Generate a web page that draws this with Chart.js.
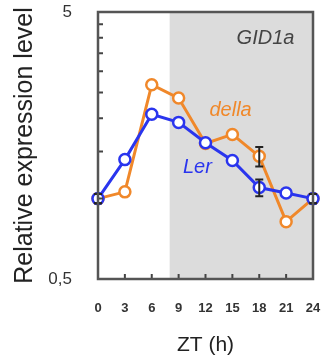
<!DOCTYPE html>
<html>
<head>
<meta charset="utf-8">
<script src="https://cdn.jsdelivr.net/npm/chart.js@4"></script>
<style>
    html, body { margin: 0; padding: 0; background: #fff; }
    #wrap { width: 321px; height: 362px; }
</style>
</head>
<body>
<div id="wrap"><canvas id="gid"></canvas></div>
<script>
// ZT hours and relative expression (log axis)
var zt = [0, 3, 6, 9, 12, 15, 18, 21, 24];
var della = [1.0, 1.06, 2.67, 2.38, 1.61, 1.74, 1.44, 0.82, 1.0];
var ler = [1.0, 1.40, 2.07, 1.93, 1.62, 1.39, 1.10, 1.05, 1.0];
var dellaErr = [0.04, 0, 0, 0, 0, 0, 0.12, 0, 0.04];
var lerErr = [0.04, 0, 0, 0, 0, 0, 0.08, 0, 0.04];
var yTicks = [0.5, 1, 1.5, 2, 2.5, 3, 3.5, 4, 4.5, 5];
var darkStart = 8;

var FONT = "'Liberation Sans', Arial, sans-serif";
var ORANGE = '#F0882A';
var BLUE = '#2A35EE';

function pts(arr) {
    return zt.map(function (t, i) { return { x: t, y: arr[i] }; });
}

var framePlugin = {
    id: 'frame',
    beforeDatasetsDraw: function (chart) {
        var c = chart.ctx, a = chart.chartArea, xs = chart.scales.x;
        var x0 = xs.getPixelForValue(darkStart);
        c.save();
        c.fillStyle = '#DCDCDC';
        c.fillRect(x0, a.top, a.right - x0, a.bottom - a.top);
        c.restore();
    },
    afterDatasetsDraw: function (chart) {
        var c = chart.ctx, xs = chart.scales.x, ys = chart.scales.y;
        c.save();
        // error bars
        c.strokeStyle = '#222';
        c.lineWidth = 2;
        [[della, dellaErr], [ler, lerErr]].forEach(function (p) {
            p[0].forEach(function (v, i) {
                var e = p[1][i];
                if (!e) return;
                var x = xs.getPixelForValue(zt[i]);
                var y1 = ys.getPixelForValue(v + e), y2 = ys.getPixelForValue(v - e);
                c.beginPath();
                c.moveTo(x, y1); c.lineTo(x, y2);
                c.moveTo(x - 4, y1); c.lineTo(x + 4, y1);
                c.moveTo(x - 4, y2); c.lineTo(x + 4, y2);
                c.stroke();
            });
        });
        c.restore();
    },
    afterDraw: function (chart) {
        var c = chart.ctx, a = chart.chartArea, xs = chart.scales.x, ys = chart.scales.y;
        c.save();
        // inward ticks
        c.strokeStyle = '#444';
        c.lineWidth = 2;
        c.beginPath();
        yTicks.forEach(function (v) {
            var y = ys.getPixelForValue(v);
            c.moveTo(a.left, y); c.lineTo(a.left + 5, y);
        });
        zt.forEach(function (t) {
            var x = xs.getPixelForValue(t);
            c.moveTo(x, a.bottom); c.lineTo(x, a.bottom - 5);
        });
        c.stroke();
        // frame
        c.strokeStyle = '#555';
        c.lineWidth = 2.5;
        c.strokeRect(a.left, a.top, a.right - a.left, a.bottom - a.top);
        // labels
        c.textAlign = 'center';
        c.textBaseline = 'middle';
        c.font = 'italic 20px ' + FONT;
        c.fillStyle = '#444';
        c.fillText('GID1a', xs.getPixelForValue(18.7), ys.getPixelForValue(3.97));
        c.fillStyle = ORANGE;
        c.fillText('della', xs.getPixelForValue(14.8), ys.getPixelForValue(2.14));
        c.fillStyle = BLUE;
        c.fillText('Ler', xs.getPixelForValue(11.1), ys.getPixelForValue(1.31));
        c.restore();
    }
};

var ctx = document.getElementById('gid').getContext('2d');
var myChart = new Chart(ctx, {
    type: 'line',
    data: {
        datasets: [{
            label: 'Ler',
            data: pts(ler),
            borderColor: BLUE,
            borderWidth: 3,
            pointRadius: 5.5,
            pointBorderWidth: 2.5,
            pointBackgroundColor: '#fff',
            pointBorderColor: BLUE
        }, {
            label: 'della',
            data: pts(della),
            borderColor: ORANGE,
            borderWidth: 3,
            pointRadius: 5.5,
            pointBorderWidth: 2.5,
            pointBackgroundColor: '#fff',
            pointBorderColor: ORANGE
        }]
    },
    options: {
        responsive: true,
        maintainAspectRatio: false,
        animation: false,
        clip: false,
        layout: { padding: { top: 12, right: 6, left: 0, bottom: 0 } },
        plugins: { legend: { display: false }, tooltip: { enabled: false } },
        scales: {
            x: {
                type: 'linear',
                min: 0,
                max: 24,
                afterBuildTicks: function (s) { s.ticks = zt.map(function (v) { return { value: v }; }); },
                grid: { display: false },
                border: { display: false },
                ticks: { color: '#333', font: { family: FONT, size: 13, weight: 'bold' }, padding: 14, maxRotation: 0 },
                title: { display: true, text: 'ZT (h)', color: '#222', font: { family: FONT, size: 21 }, padding: { top: 14 } },
                afterFit: function (s) { s.height = 83; s.paddingRight = 0; s.paddingLeft = 0; }
            },
            y: {
                type: 'logarithmic',
                min: 0.5,
                max: 5,
                afterBuildTicks: function (s) { s.ticks = yTicks.map(function (v) { return { value: v }; }); },
                grid: { display: false },
                border: { display: false },
                ticks: {
                    color: '#333',
                    font: { family: FONT, size: 17 },
                    padding: 18,
                    autoSkip: false,
                    callback: function (v) { return v === 5 ? '5' : (v === 0.5 ? '0,5' : ''); }
                },
                title: { display: true, text: 'Relative expression level', color: '#222', font: { family: FONT, size: 25 }, padding: { top: 10 } },
                afterFit: function (s) { s.width = 98; s.paddingTop = 0; s.paddingBottom = 0; }
            }
        }
    },
    plugins: [framePlugin]
});
</script>
</body>
</html>
